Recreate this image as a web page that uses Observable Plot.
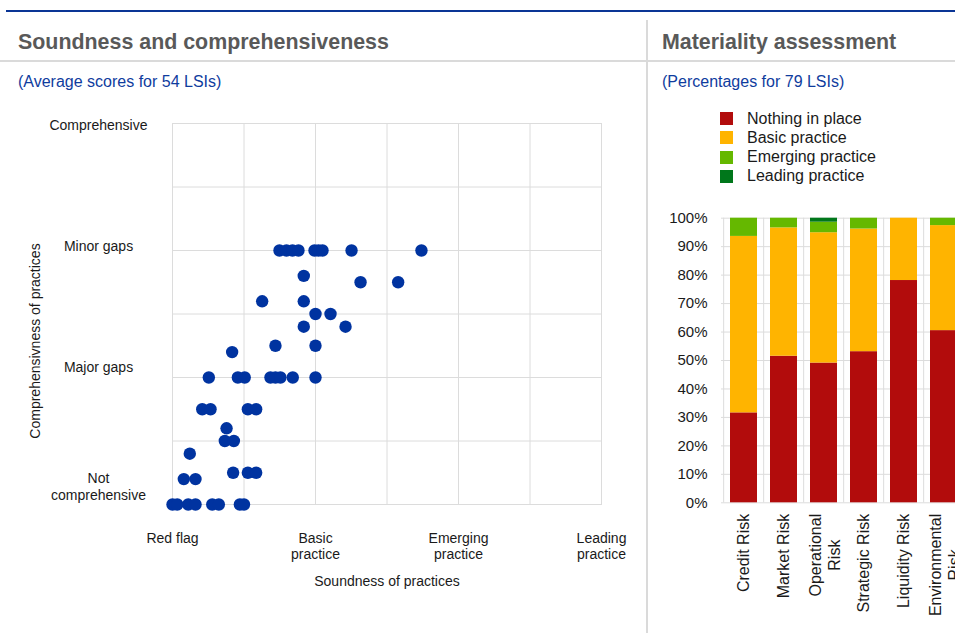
<!DOCTYPE html>
<html>
<head>
<meta charset="utf-8">
<script src="https://cdn.jsdelivr.net/npm/d3@7"></script>
<script src="https://cdn.jsdelivr.net/npm/@observablehq/plot@0.6"></script>
<style>
  html, body { margin: 0; padding: 0; background: #fff; }
  body { width: 955px; height: 633px; overflow: hidden; position: relative; font-family: "Liberation Sans", Arial, sans-serif; color: #1a1a1a; }
  .abs { position: absolute; }
  .title { font-weight: bold; font-size: 21.4px; color: #595959; line-height: 26px; white-space: nowrap; }
  .sub { font-size: 16px; color: #0f3c9e; line-height: 20px; white-space: nowrap; }
  .legrow { position: absolute; left: 0; height: 19px; display: flex; align-items: center; font-size: 16px; white-space: nowrap; }
  .sw { width: 13px; height: 13px; margin-right: 14px; flex: none; }
</style>
</head>
<body>
<script>
// ---------- Data: left panel (scatter) ----------
const xTickValues = [0, 1, 2, 3];
const xTickLabels = ["Red flag", "Basic\npractice", "Emerging\npractice", "Leading\npractice"];
const yTickValues = [0, 1, 2, 3];
const yTickLabels = ["Not\ncomprehensive", "Major gaps", "Minor gaps", "Comprehensive"];
const soundness = [
  0.748, 0.797, 0.839, 0.881, 0.993, 1.021, 1.049, 1.252, 1.741,
  0.918,
  1.315, 1.578,
  0.627, 0.918,
  1.0, 1.105,
  0.918, 1.21,
  0.72, 1.0,
  0.417,
  0.254, 0.457, 0.505, 0.685, 0.72, 0.755, 0.841, 1.0,
  0.208, 0.266, 0.527, 0.585,
  0.378,
  0.366, 0.429,
  0.121,
  0.424, 0.527, 0.585,
  0.079, 0.161,
  0.0, 0.033, 0.11, 0.161, 0.278, 0.324, 0.471, 0.5
];
const comprehensiveness = [
  2, 2, 2, 2, 2, 2, 2, 2, 2,
  1.8,
  1.75, 1.75,
  1.6, 1.6,
  1.5, 1.5,
  1.4, 1.4,
  1.25, 1.25,
  1.2,
  1, 1, 1, 1, 1, 1, 1, 1,
  0.75, 0.75, 0.75, 0.75,
  0.6,
  0.5, 0.5,
  0.4,
  0.25, 0.25, 0.25,
  0.2, 0.2,
  0, 0, 0, 0, 0, 0, 0, 0
];

// ---------- Data: right panel (stacked bars) ----------
const risks = ["Credit Risk", "Market Risk", "Operational Risk", "Strategic Risk", "Liquidity Risk", "Environmental Risk"];
const riskLabels = ["Credit Risk", "Market Risk", "Operational\nRisk", "Strategic Risk", "Liquidity Risk", "Environmental\nRisk"];
const levels = ["Nothing in place", "Basic practice", "Emerging practice", "Leading practice"];
const levelColors = ["#b20c0c", "#ffb400", "#65b800", "#00771b"];
const nothingInPlace   = [31.6, 51.5, 49.1, 53.1, 78.1, 60.5];
const basicPractice    = [62.0, 45.1, 45.8, 43.1, 21.9, 36.9];
const emergingPractice = [6.4, 3.4, 3.7, 3.8, 0.0, 2.6];
const leadingPractice  = [0.0, 0.0, 1.4, 0.0, 0.0, 0.0];
const pctTicks = [0, 10, 20, 30, 40, 50, 60, 70, 80, 90, 100];

// ---------- Page chrome ----------
function el(tag, cls, style, text) {
  const e = document.createElement(tag);
  if (cls) e.className = cls;
  Object.assign(e.style, style || {});
  if (text != null) e.textContent = text;
  document.body.appendChild(e);
  return e;
}
el("div", "abs", {left: "6px", right: "0", top: "10px", height: "2px", background: "#0a3595"});
el("div", "abs", {left: "0", right: "0", top: "60px", height: "2px", background: "#dadada"});
el("div", "abs", {left: "646px", top: "20px", width: "2px", height: "613px", background: "#dadada"});
el("div", "abs title", {left: "18px", top: "29px"}, "Soundness and comprehensiveness");
el("div", "abs title", {left: "662px", top: "29px"}, "Materiality assessment");
el("div", "abs sub", {left: "18px", top: "72px"}, "(Average scores for 54 LSIs)");
el("div", "abs sub", {left: "662px", top: "72px"}, "(Percentages for 79 LSIs)");

// legend
const leg = el("div", "abs", {left: "720px", top: "109px", width: "240px", height: "80px"});
levels.forEach((lv, i) => {
  const row = document.createElement("div");
  row.className = "legrow";
  row.style.top = (i * 19.3) + "px";
  const sw = document.createElement("div");
  sw.className = "sw";
  sw.style.background = levelColors[i];
  const tx = document.createElement("span");
  tx.textContent = lv;
  row.appendChild(sw); row.appendChild(tx);
  leg.appendChild(row);
});

// ---------- Left chart ----------
const points = soundness.map((s, i) => ({s, c: comprehensiveness[i]}));
const gridTicks = d3.range(0, 3.01, 0.5);
// small vertical nudges of the category labels, as in the original layout
const yLabelNudge = [-4.5, -6, 0, 6];
const yAxisMarks = yTickValues.map((v, i) =>
  Plot.axisY({ticks: [v], tickFormat: () => yTickLabels[i], tickSize: 0, tickPadding: 74, textAnchor: "middle", lineAnchor: "bottom", lineHeight: 1.2, dy: yLabelNudge[i], fontSize: 14, label: null})
);
const left = Plot.plot({
  width: 640, height: 500,
  marginLeft: 172, marginRight: 39, marginTop: 23, marginBottom: 96,
  style: {fontFamily: "'Liberation Sans', Arial, sans-serif", color: "#1a1a1a", background: "transparent"},
  x: {domain: [0, 3]},
  y: {domain: [0, 3]},
  marks: [
    Plot.gridX(gridTicks, {stroke: "#dcdcdc", strokeOpacity: 1}),
    Plot.gridY(gridTicks, {stroke: "#dcdcdc", strokeOpacity: 1}),
    Plot.frame({stroke: "#dcdcdc"}),
    Plot.axisX({ticks: xTickValues, tickFormat: (d, i) => xTickLabels[i], tickSize: 0, tickPadding: 27, fontSize: 14, lineHeight: 1.15, label: null}),
    ...yAxisMarks,
    Plot.text(["Soundness of practices"], {text: d => d, frameAnchor: "bottom", dy: 81, fontSize: 14}),
    Plot.text(["Comprehensivness of practices"], {text: d => d, frameAnchor: "left", textAnchor: "middle", dx: -137, dy: 27, rotate: -90, fontSize: 14}),
    Plot.dot(points, {x: "s", y: "c", r: 6.2, fill: "#0033a0", stroke: "none"})
  ]
});
left.style.position = "absolute";
left.style.left = "0px";
left.style.top = "100px";
document.body.appendChild(left);

// ---------- Right chart ----------
const rows = [];
risks.forEach((r, i) => {
  [nothingInPlace, basicPractice, emergingPractice, leadingPractice].forEach((arr, j) => {
    rows.push({risk: r, level: levels[j], value: arr[i]});
  });
});
const rW = 330, rML = 74, rMR = 11.8;
const step = (rW - rML - rMR) / risks.length;
const labelFont = 16;
const ctx = document.createElement("canvas").getContext("2d");
ctx.font = labelFont + "px 'Liberation Sans', Arial, sans-serif";
// single-line labels: end-anchored at the top; wrapped labels: lines centred on the longest line
const labelMarks = risks.map((r, i) => {
  const lines = riskLabels[i].split("\n");
  if (lines.length === 1) {
    return Plot.text([r], {x: d => d, text: () => riskLabels[i], frameAnchor: "bottom", rotate: -90, textAnchor: "end", lineAnchor: "middle", dy: 11, fontSize: labelFont});
  }
  const w = Math.max(...lines.map(l => ctx.measureText(l).width));
  return Plot.text([r], {x: d => d, text: () => riskLabels[i], frameAnchor: "bottom", rotate: -90, textAnchor: "middle", lineAnchor: "middle", lineHeight: 1.2, dy: 11 + w / 2, fontSize: labelFont});
});
const right = Plot.plot({
  width: rW, height: 433,
  marginLeft: rML, marginRight: rMR, marginTop: 17.7, marginBottom: 130.7,
  style: {fontFamily: "'Liberation Sans', Arial, sans-serif", color: "#1a1a1a", background: "transparent", overflow: "visible"},
  x: {domain: risks, paddingInner: 0.336, paddingOuter: 0.168, axis: null},
  y: {domain: [0, 100]},
  color: {domain: levels, range: levelColors},
  marks: [
    Plot.gridY(pctTicks, {stroke: "#dcdcdc", strokeOpacity: 1}),
    Plot.ruleX(risks, {x: d => d, y1: 0, y2: 100, dx: -step / 2, stroke: "#dcdcdc"}),
    Plot.ruleX(risks.slice(-1), {x: d => d, y1: 0, y2: 100, dx: step / 2, stroke: "#dcdcdc"}),
    Plot.axisY({ticks: pctTicks, tickFormat: d => d + "%", tickSize: 0, tickPadding: 14, fontSize: 15, label: null}),
    Plot.barY(rows, {x: "risk", y: "value", fill: "level", order: levels}),
    ...labelMarks
  ]
});
right.style.position = "absolute";
right.style.left = "647px";
right.style.top = "200px";
document.body.appendChild(right);
</script>
</body>
</html>
